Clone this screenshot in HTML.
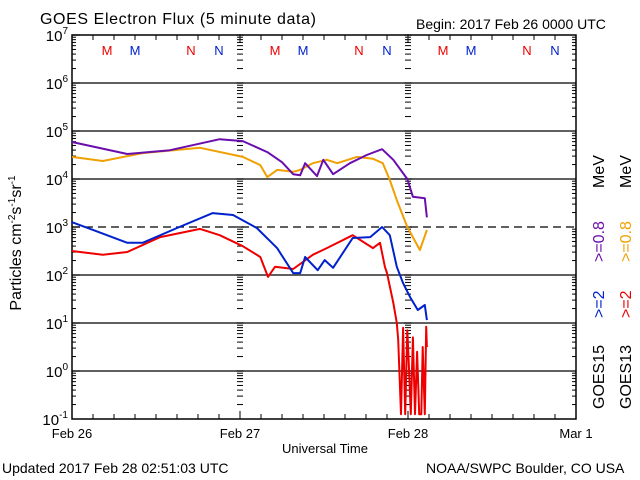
<!DOCTYPE html>
<html><head><meta charset="utf-8"><style>
body{margin:0;background:#fff;}
svg{display:block;font-family:"Liberation Sans",sans-serif;}
</style></head><body>
<svg id="chart" width="640" height="480" viewBox="0 0 640 480" xmlns="http://www.w3.org/2000/svg">
<rect width="640" height="480" fill="#fff"/>
<text x="40" y="24" font-size="16" letter-spacing="0.6">GOES Electron Flux (5 minute data)</text>
<text x="416" y="29" font-size="14">Begin: 2017 Feb 26 0000 UTC</text>
<text x="2" y="473" font-size="14">Updated 2017 Feb 28 02:51:03 UTC</text>
<text x="426" y="473" font-size="14">NOAA/SWPC Boulder, CO USA</text>
<text x="325" y="453" font-size="13" text-anchor="middle">Universal Time</text>
<text transform="translate(21,243) rotate(-90)" font-size="16" text-anchor="middle">Particles cm<tspan font-size="10" dy="-6">-2</tspan><tspan dy="6">s</tspan><tspan font-size="10" dy="-6">-1</tspan><tspan dy="6">sr</tspan><tspan font-size="10" dy="-6">-1</tspan></text>
<g id="axes"></g>
<g id="series"></g>
<g id="legend" font-size="16">
 <text transform="translate(604,409) rotate(-90)" fill="#000">GOES15</text>
 <text transform="translate(604,318) rotate(-90)" fill="#0022cc">&gt;=2</text>
 <text transform="translate(604,262) rotate(-90)" fill="#6a0dad">&gt;=0.8</text>
 <text transform="translate(604,188) rotate(-90)" fill="#000">MeV</text>
 <text transform="translate(631,409) rotate(-90)" fill="#000">GOES13</text>
 <text transform="translate(631,318) rotate(-90)" fill="#ee0000">&gt;=2</text>
 <text transform="translate(631,262) rotate(-90)" fill="#f0a000">&gt;=0.8</text>
 <text transform="translate(631,188) rotate(-90)" fill="#000">MeV</text>
</g>
</svg>
<script>
const dayLabels=["Feb 26","Feb 27","Feb 28","Mar 1"];
const yTickExps=[7,6,5,4,3,2,1,0,-1];
const mnLabels=["M","M","N","N"];
const mnHours=[5,9,17,21];
// [hour since Feb 26 00UT], log10 flux
const purpleH=[0,7.9,14,21.1,24.4,27.9,30,31.6,32.6,33.3,35,35.9,37.3,39.7,42.1,44.3,45.9,47.9,48.7,50.4,50.7];
const purpleV=[4.77,4.52,4.6,4.83,4.79,4.56,4.35,4.1,4.08,4.33,4.06,4.4,4.1,4.33,4.5,4.62,4.4,4.0,3.63,3.6,3.2];
const orangeH=[0,4.4,10.1,18.3,24.4,26.9,27.9,29.3,31.6,32.6,34.4,36.4,37.9,40.7,43,44.4,45.4,46.4,47.9,49.7,50.7];
const orangeV=[4.46,4.375,4.54,4.65,4.46,4.29,4.04,4.19,4.15,4.19,4.33,4.4,4.33,4.46,4.42,4.33,3.98,3.56,3.0,2.52,2.94];
const blueH=[0,3,7.9,10.1,15,20.1,23,26.4,29.3,31.6,32.6,33.3,35.1,36.1,37.3,40.1,42.6,44.3,45.4,46.4,47.3,48.3,49.4,50.4,50.7];
const blueV=[3.1,2.94,2.67,2.67,2.98,3.29,3.25,2.98,2.56,2.04,2.04,2.375,2.1,2.31,2.15,2.77,2.79,3.0,2.83,2.17,1.83,1.54,1.27,1.375,1.06];
const redH=[0,4.4,7.9,12.6,18.3,21.1,24.4,26.9,28,29,31.6,34.4,36.4,40.1,43,44,44.7,45,45.9,46.4,46.6,47,47.3,47.6,47.9,48.1,48.4,48.7,49,49.3,49.6,49.9,50.1,50.4,50.6,50.7];
const redV=[2.5,2.42,2.48,2.79,2.96,2.83,2.6,2.375,1.96,2.17,2.125,2.42,2.56,2.83,2.56,2.67,2.17,2.04,1.42,1.0,0.65,-0.9,0.9,-0.9,0.85,0.2,-0.9,0.7,-0.9,0.4,-0.9,-0.9,0.5,-0.9,0.92,0.5];

const NS="http://www.w3.org/2000/svg";
const X0=72,X1=576,Y0=35,Y1=419;
const xs=h=>X0+h*(X1-X0)/72;
const ys=l=>Y0+(7-l)*(Y1-Y0)/8;
function mk(tag,attrs,parent){const e=document.createElementNS(NS,tag);for(const k in attrs)e.setAttribute(k,attrs[k]);parent.appendChild(e);return e;}
const axes=document.getElementById('axes');
yTickExps.forEach(p=>{
 if(p===7||p===-1)return;
 const g=mk('line',{x1:X0,x2:X1,y1:ys(p),y2:ys(p),stroke:'#000','stroke-width':1.3},axes);
 if(p===3)g.setAttribute('stroke-dasharray','8,5');
 
 
});
function tickCol(x,len,both){
 for(let p=-1;p<7;p++){for(let m=2;m<=9;m++){const y=ys(p+Math.log10(m));
  mk('line',{x1:x-(both?len/2:0),x2:x+(both?len/2:len),y1:y,y2:y,stroke:'#000','stroke-width':1},axes);}
  const y=ys(p+1);mk('line',{x1:x-(both?4:0),x2:x+(both?4:8),y1:y,y2:y,stroke:'#000','stroke-width':1.2},axes);}
}
tickCol(X0,4,false);
for(let p=-1;p<7;p++){for(let m=2;m<=9;m++){const y=ys(p+Math.log10(m));mk('line',{x1:X1-4,x2:X1,y1:y,y2:y,stroke:'#000'},axes);}}
tickCol(xs(24),6,true);tickCol(xs(48),6,true);
for(let h=0;h<=72;h+=3){const L=h%24===0?8:5;
 mk('line',{x1:xs(h),x2:xs(h),y1:Y1,y2:Y1-L,stroke:'#000'},axes);
 mk('line',{x1:xs(h),x2:xs(h),y1:Y0,y2:Y0+L,stroke:'#000'},axes);}
const frame=mk('rect',{x:X0,y:Y0,width:X1-X0,height:Y1-Y0,fill:'none',stroke:'#000','stroke-width':1.5},axes);


dayLabels.forEach((d,i)=>{const t=mk('text',{x:xs(i*24),y:438,'font-size':13,'text-anchor':'middle'},axes);t.textContent=d;
 
 });
yTickExps.forEach(p=>{const t=mk('text',{x:X0-4,y:ys(p)+6,'font-size':15,'text-anchor':'end'},axes);
 t.innerHTML='10<tspan font-size="10" dy="-7">'+p+'</tspan>';
 
 });
for(let d=0;d<3;d++){mnHours.forEach((h,i)=>{const t=mk('text',{x:xs(d*24+h),y:55,'font-size':13,'text-anchor':'middle',fill:i%2?'#0022cc':'#ee0000'},axes);t.textContent=mnLabels[i];
 
 });}
const ser=document.getElementById('series');
function line(H,V,color,name){const d=H.map((h,i)=>(i?'L':'M')+xs(h).toFixed(1)+','+ys(V[i]).toFixed(1)).join('');
 const p=mk('path',{d:d,fill:'none',stroke:color,'stroke-width':2,'stroke-linejoin':'round'},ser);
 
 }
line(orangeH,orangeV,'#f0a000','goes13-0.8mev-line');
line(purpleH,purpleV,'#6a0dad','goes15-0.8mev-line');
line(redH,redV,'#ee0000','goes13-2mev-line');
line(blueH,blueV,'#0022cc','goes15-2mev-line');
</script>
</body></html>
